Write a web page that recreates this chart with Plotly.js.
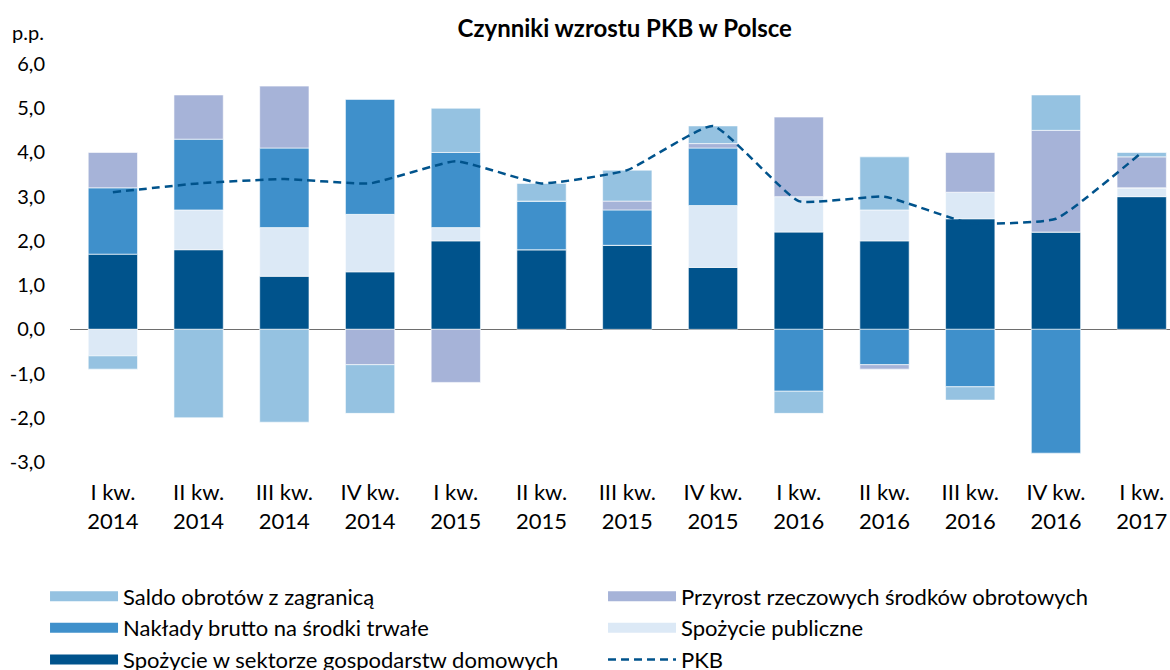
<!DOCTYPE html>
<html>
<head>
<meta charset="utf-8">
<script src="https://cdn.plot.ly/plotly-3.0.1.min.js"></script>
<style>html,body{margin:0;padding:0;background:#fff;}#chart{width:1170px;height:670px;}</style>
</head>
<body>
<div id="chart"></div>
<script>
const categories = ["I kw.<br>2014","II kw.<br>2014","III kw.<br>2014","IV kw.<br>2014","I kw.<br>2015","II kw.<br>2015","III kw.<br>2015","IV kw.<br>2015","I kw.<br>2016","II kw.<br>2016","III kw.<br>2016","IV kw.<br>2016","I kw.<br>2017"];
const household   = [1.7, 1.8, 1.2, 1.3, 2.0, 1.8, 1.9, 1.4, 2.2, 2.0, 2.5, 2.2, 3.0];
const publicCons  = [-0.6, 0.9, 1.1, 1.3, 0.3, 0.0, 0.0, 1.4, 0.8, 0.7, 0.6, 0.0, 0.2];
const investment  = [1.5, 1.6, 1.8, 2.6, 1.7, 1.1, 0.8, 1.3, -1.4, -0.8, -1.3, -2.8, 0.0];
const inventories = [0.8, 1.0, 1.4, -0.8, -1.2, 0.0, 0.2, 0.1, 1.8, -0.1, 0.9, 2.3, 0.7];
const netExports  = [-0.3, -2.0, -2.1, -1.1, 1.0, 0.4, 0.7, 0.4, -0.5, 1.2, -0.3, 0.8, 0.1];
const gdp         = [3.1, 3.3, 3.4, 3.3, 3.8, 3.3, 3.6, 4.6, 2.9, 3.0, 2.4, 2.5, 4.0];
const yTicks      = [-3, -2, -1, 0, 1, 2, 3, 4, 5, 6];
const yTickLabels = ["-3,0", "-2,0", "-1,0", "0,0", "1,0", "2,0", "3,0", "4,0", "5,0", "6,0"];

const FONT = "Lato, 'Open Sans', sans-serif";
const series = [
  {name: 'Spożycie w sektorze gospodarstw domowych', y: household, color: '#00538C', rank: 5},
  {name: 'Spożycie publiczne', y: publicCons, color: '#DCE9F6', rank: 4},
  {name: 'Nakłady brutto na środki trwałe', y: investment, color: '#3F90CB', rank: 3},
  {name: 'Przyrost rzeczowych środków obrotowych', y: inventories, color: '#A6B3D8', rank: 2},
  {name: 'Saldo obrotów z zagranicą', y: netExports, color: '#95C2E1', rank: 1}
];
const traces = [];
series.forEach(s => {
  traces.push({type: 'bar', name: s.name, x: categories, y: s.y, showlegend: false,
    marker: {color: s.color, line: {color: 'rgba(255,255,255,0.6)', width: 1}}, hoverinfo: 'skip'});
});
// legend swatches (no data drawn)
series.forEach(s => {
  traces.push({type: 'scatter', mode: 'lines', name: s.name, x: [categories[0]], y: [null],
    legendrank: s.rank, line: {color: s.color, width: 15}, hoverinfo: 'skip'});
});
traces.push({type: 'scatter', mode: 'lines', name: 'PKB', x: categories, y: gdp, legendrank: 6,
  line: {color: '#00538C', width: 2.5, dash: '8px,5px', shape: 'spline', smoothing: 0.4}, hoverinfo: 'skip'});

const layout = {
  width: 1170, height: 670,
  margin: {l: 70, r: 0, t: 64, b: 208, autoexpand: false},
  paper_bgcolor: '#fff', plot_bgcolor: '#fff',
  font: {family: FONT, size: 20, color: '#000'},
  separators: ', ',
  barmode: 'relative',
  bargap: 0.425,
  title: {text: '<b>Czynniki wzrostu PKB w Polsce</b>', x: 0.534, xanchor: 'center', y: 0.958, yanchor: 'middle',
          font: {family: FONT, size: 24, color: '#000'}},
  xaxis: {type: 'category', range: [-0.5, 12.33], showgrid: false, showline: false, ticks: '',
          tickfont: {family: FONT, size: 22}, ticklabelstandoff: 15, fixedrange: true},
  yaxis: {range: [-3, 6], tickvals: yTicks, ticktext: yTickLabels, showgrid: false, showline: false,
          zeroline: true, zerolinecolor: '#6e6e6e', zerolinewidth: 1.5, ticks: '',
          tickfont: {family: FONT, size: 20}, ticklabelstandoff: 24, fixedrange: true},
  showlegend: true,
  legend: {orientation: 'h', x: -0.0227, xanchor: 'left', y: -0.285, yanchor: 'top',
           entrywidth: 475, entrywidthmode: 'pixels', itemwidth: 68, traceorder: 'normal',
           font: {family: FONT, size: 22}, bgcolor: 'rgba(0,0,0,0)'},
  annotations: [{text: 'p.p.', xref: 'paper', yref: 'paper', x: -0.0545, y: 1.08, xanchor: 'left', yanchor: 'middle',
                 showarrow: false, font: {family: FONT, size: 20}}]
};
Plotly.newPlot('chart', traces, layout, {displayModeBar: false, staticPlot: true});
</script>
</body>
</html>
